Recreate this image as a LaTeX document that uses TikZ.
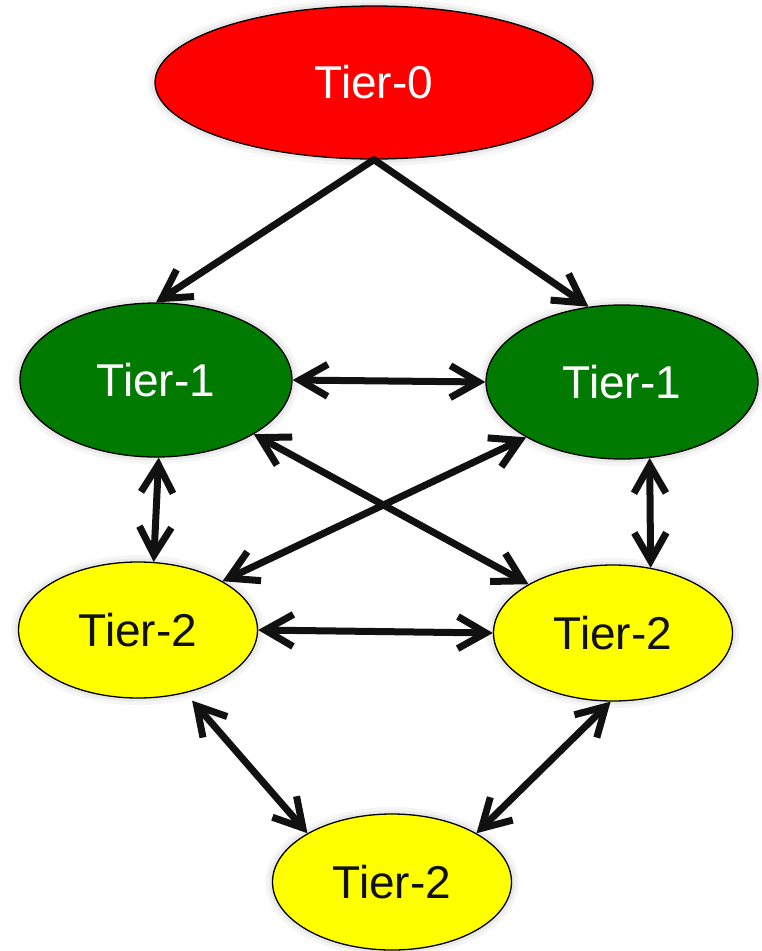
\documentclass[tikz,border=0pt]{standalone}
\usepackage{fontspec}
\setmainfont{Liberation Sans}
\usetikzlibrary{arrows.meta, shapes.geometric}

\definecolor{tierred}{RGB}{255,0,0}
\definecolor{tiergreen}{RGB}{0,122,0}
\definecolor{tieryellow}{RGB}{255,255,0}
\definecolor{linkblack}{RGB}{17,17,17}

\begin{document}
\begin{tikzpicture}[x=1pt, y=1pt, >={Straight Barb[length=28pt, width=32pt]},
		tier/.style={ellipse, draw=black, line width=1.3pt, inner sep=0pt,
			font=\fontsize{46}{50}\selectfont,
			preaction={draw=black, opacity=0.04, line width=14pt},
			preaction={draw=black, opacity=0.05, line width=7pt}},
		tierzero/.style={tier, fill=tierred, text=white, minimum width=438pt, minimum height=153pt},
		tierone/.style={tier, fill=tiergreen, text=white, minimum width=272pt, minimum height=154pt},
		tiertwo/.style={tier, fill=tieryellow, text=linkblack, minimum width=239pt, minimum height=136pt},
		link/.style={<->, draw=linkblack, line width=7pt, line cap=round, line join=round}]
		
		\useasboundingbox (0,0) rectangle (762,-951);
		
		% Tier-0
		\node[tierzero] (t0) at (374,-82.5) {Tier-0};
		
		% Tier-1
		\node[tierone] (t1l) at (156,-380) {Tier-1};
		\node[tierone] (t1r) at (622,-382) {Tier-1};
		
		% Tier-2
		\node[tiertwo] (t2l) at (138,-630) {Tier-2};
		\node[tiertwo] (t2r) at (613,-633) {Tier-2};
		\node[tiertwo] (t2b) at (392,-882) {Tier-2};
		
		% Verbindungen
		\draw[link, <-] (t1l.north) -- (t0.south);
		\draw[link, <-] (t1r.114) -- (t0.south);
		
		\draw[link] (t1l.east) -- (t1r.west);
		\draw[link] (t1l.-88) -- (t2l.77);
		\draw[link] (t1r.-70) -- (t2r.60);
		\draw[link] (t1l.-29) -- (t2r.150);
		\draw[link] (t1r.-150) -- (t2l.30);
		
		\draw[link] (t2l.east) -- (t2r.west);
		\draw[link, shorten <=10pt] (t2l.-53) -- (t2b.150);
		\draw[link] (t2r.-92) -- (t2b.30);
		
	\end{tikzpicture}
\end{document}
